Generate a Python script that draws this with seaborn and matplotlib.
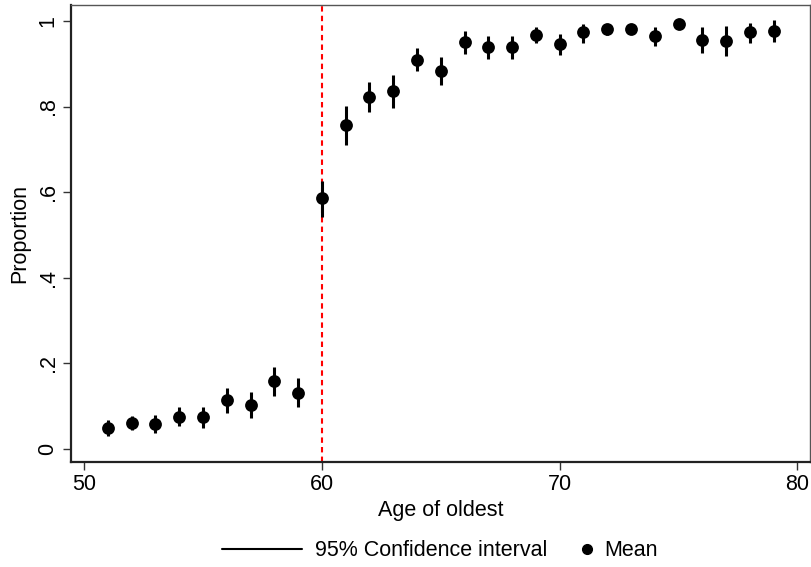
import matplotlib
matplotlib.use("Agg")
import matplotlib.pyplot as plt
from matplotlib.lines import Line2D
import numpy as np
import pandas as pd
import seaborn as sns

# Age of the oldest household member
age = [51, 52, 53, 54, 55, 56, 57, 58, 59, 60,
       61, 62, 63, 64, 65, 66, 67, 68, 69, 70,
       71, 72, 73, 74, 75, 76, 77, 78, 79]

# Mean proportion for each age
mean = [0.050, 0.060, 0.059, 0.076, 0.075, 0.114, 0.103, 0.159, 0.132, 0.586,
        0.757, 0.823, 0.836, 0.909, 0.884, 0.950, 0.938, 0.939, 0.968, 0.946,
        0.973, 0.980, 0.982, 0.965, 0.992, 0.956, 0.953, 0.973, 0.977]

# 95% confidence interval bounds
ci_low = [0.031, 0.044, 0.038, 0.054, 0.050, 0.085, 0.073, 0.124, 0.099, 0.543,
          0.710, 0.788, 0.797, 0.882, 0.850, 0.922, 0.911, 0.911, 0.948, 0.921,
          0.949, 0.968, 0.970, 0.942, 0.987, 0.926, 0.918, 0.948, 0.950]
ci_high = [0.069, 0.078, 0.080, 0.099, 0.098, 0.143, 0.133, 0.192, 0.165, 0.625,
           0.801, 0.857, 0.874, 0.936, 0.915, 0.977, 0.965, 0.965, 0.985, 0.970,
           0.993, 0.990, 0.993, 0.985, 0.997, 0.985, 0.988, 0.995, 1.002]

cutoff = 60
x_ticks = [50, 60, 70, 80]
y_ticks = [0, 0.2, 0.4, 0.6, 0.8, 1.0]
y_tick_labels = ["0", ".2", ".4", ".6", ".8", "1"]

df = pd.DataFrame({"age": age, "mean": mean, "lo": ci_low, "hi": ci_high})

sns.set_style("white")
plt.rcParams["font.family"] = ["Liberation Sans", "DejaVu Sans"]
plt.rcParams["text.color"] = "black"
plt.rcParams["axes.labelcolor"] = "black"
FS = 15.5

fig = plt.figure(figsize=(8.11, 5.67), dpi=100)
ax = fig.add_axes([71 / 811, 1 - 462 / 567, (810 - 71) / 811, (462 - 5) / 567])

ax.axvline(cutoff, color="#ff0000", lw=1.5, ls=(0, (2.6, 2.0)), zorder=1)
ax.vlines(df["age"], df["lo"], df["hi"], color="black", lw=2.2, zorder=2)
sns.scatterplot(data=df, x="age", y="mean", ax=ax, color="black",
                s=85, edgecolor="black", linewidth=0, zorder=3, legend=False)

ax.set_xlim(49.45, 80.53)
ax.set_ylim(-0.030, 1.037)
ax.set_xticks(x_ticks)
ax.set_xticklabels([str(t) for t in x_ticks])
ax.set_yticks(y_ticks)
ax.set_yticklabels(y_tick_labels, rotation=90, va="center")

ax.tick_params(axis="both", direction="out", length=6, width=1,
               color="#333333", labelsize=FS, labelcolor="black", pad=3)
ax.tick_params(axis="both", which="both", bottom=True, left=True)

ax.set_xlabel("Age of oldest", fontsize=FS, labelpad=3, color="black")
ax.set_ylabel("Proportion", fontsize=FS, labelpad=5, color="black")

for side in ["left", "bottom"]:
    ax.spines[side].set_color("#222222")
    ax.spines[side].set_linewidth(1.6)
for side in ["top", "right"]:
    ax.spines[side].set_color("#555555")
    ax.spines[side].set_linewidth(1.0)

# Legend row below the plot: interval line and mean marker
y_leg = 1 - 551 / 567
fig.legend([Line2D([], [], color="black", lw=1.5)],
           ["95% Confidence interval"],
           loc="center left", bbox_to_anchor=(222 / 811, y_leg),
           frameon=False, fontsize=FS, handlelength=3.7, labelcolor="black",
           handletextpad=0.6, borderpad=0, borderaxespad=0)
fig.legend([Line2D([], [], color="black", marker="o", ls="none", markersize=7)],
           ["Mean"],
           loc="center left", bbox_to_anchor=(576 / 811, y_leg),
           frameon=False, fontsize=FS, handlelength=1.0, labelcolor="black",
           handletextpad=0.3, borderpad=0, borderaxespad=0)

fig.savefig("out.png", dpi=100, facecolor="white")
